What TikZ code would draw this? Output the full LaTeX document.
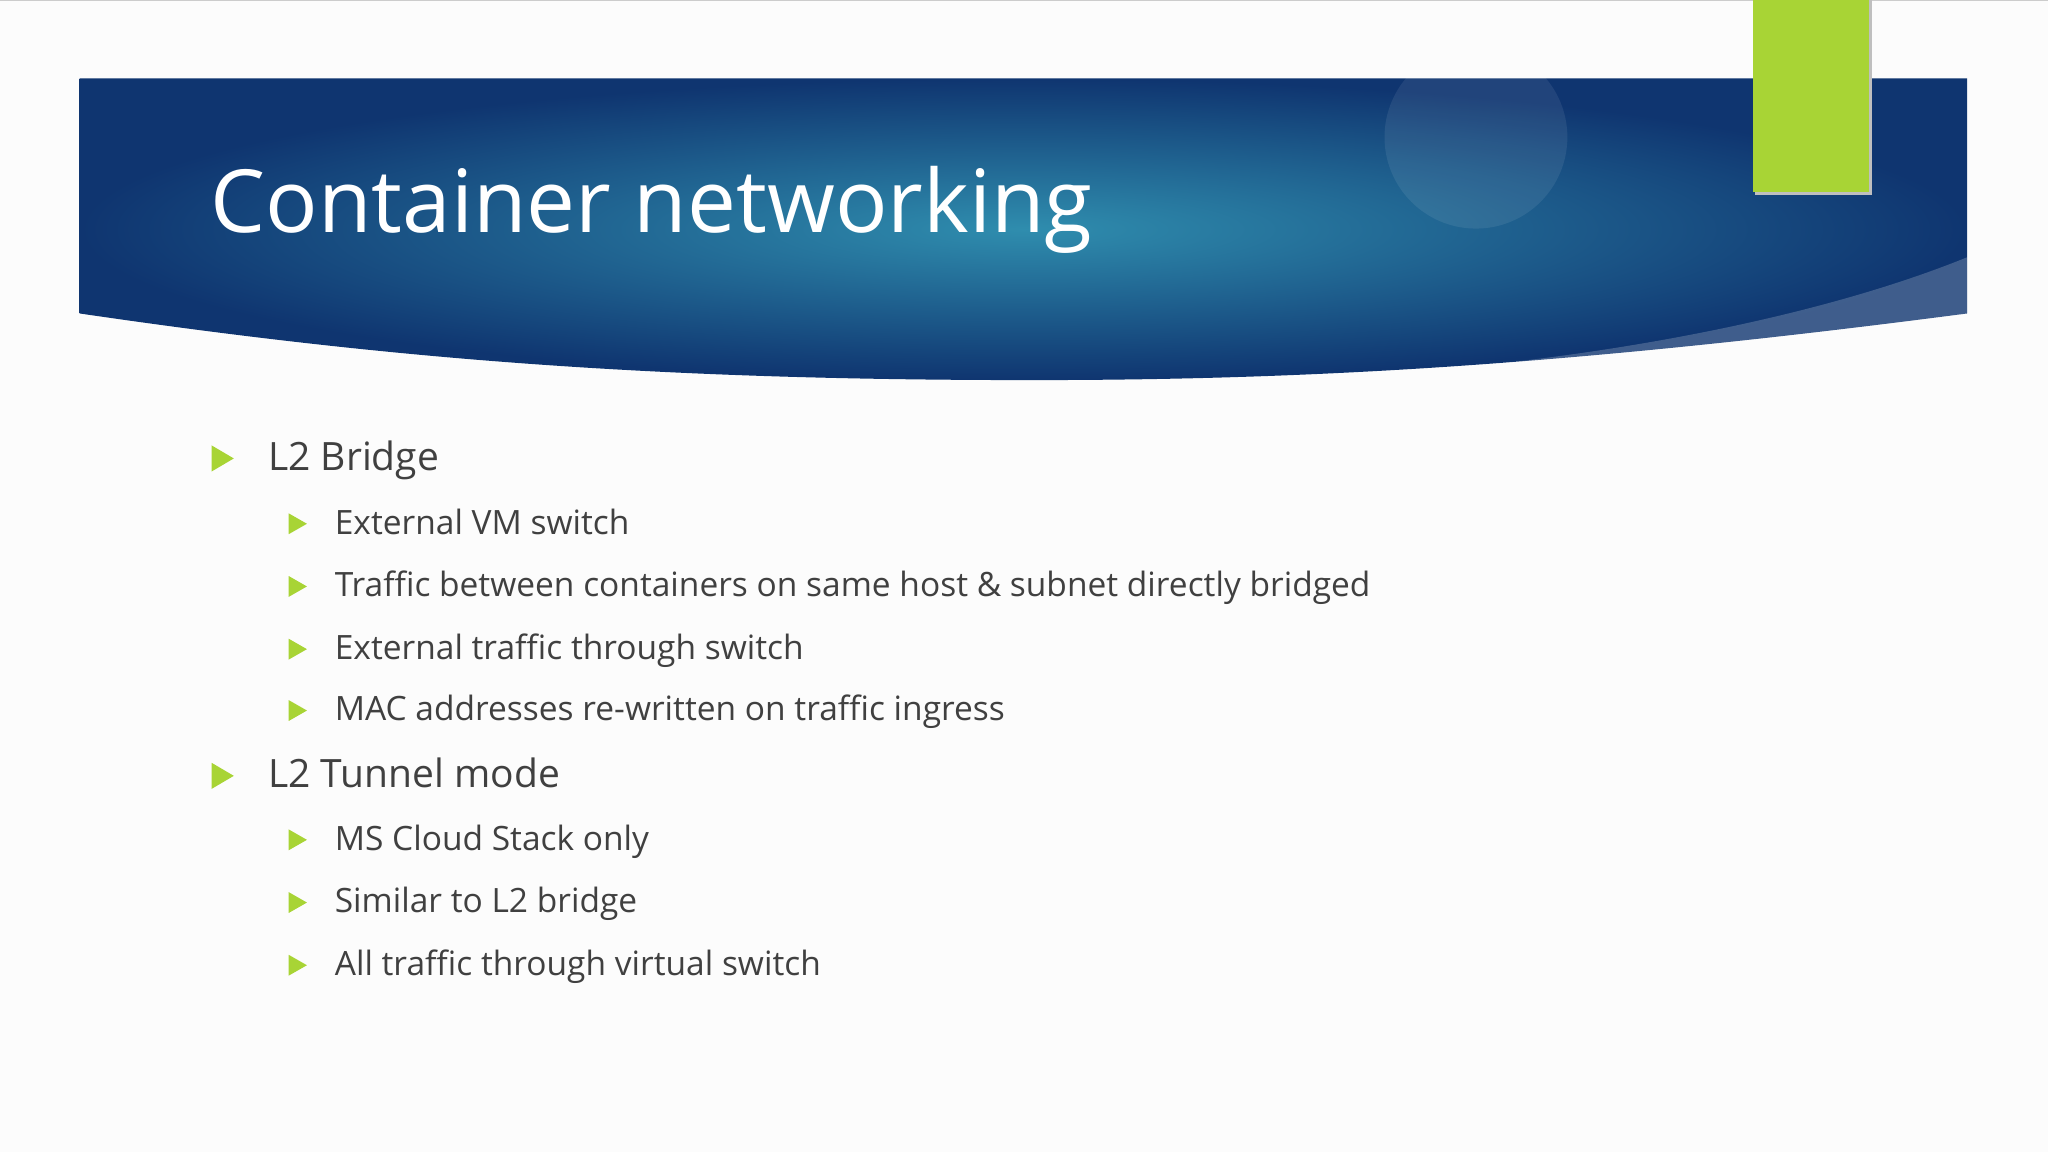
\documentclass[tikz,border=0pt]{standalone}
\usepackage{fontspec}
\setmainfont{Open Sans}
\definecolor{bdark}{HTML}{0F3570}
\definecolor{bteal}{HTML}{2F8DAE}
\definecolor{bgreen}{HTML}{A8D435}
\definecolor{txt}{HTML}{404040}
\tikzset{
  lone/.style={anchor=base west, text=txt, font=\fontsize{17}{20}\selectfont, inner sep=0},
  ltwo/.style={anchor=base west, text=txt, font=\fontsize{14.6}{18}\selectfont, inner sep=0},
  bul/.style={fill=bgreen},
}
\begin{document}
\begin{tikzpicture}[x=0.02cm,y=-0.02cm]
\useasboundingbox (0,0) rectangle (1568,882);
\fill[white!98!gray] (0,0) rectangle (1568,882);
\draw[gray!40] (0,0.5) -- (1568,0.5);
% banner
\shade[inner color=bteal, outer color=bdark] (61,60) -- (1506,60) -- (1506,240) .. controls (1200,280) and (1000,291) .. (790,291) .. controls (500,291) and (300,275) .. (61,240) -- cycle;
\fill[white, opacity=0.2] (1506,197) .. controls (1400,240) and (1250,270) .. (1100,283) .. controls (1300,270) and (1420,255) .. (1506,240) -- cycle;
\fill[white, opacity=0.08] (1130,105) circle (70);
% green tab
\fill[black!25] (1344,0) rectangle (1433,149);
\fill[bgreen] (1342,0) rectangle (1431,147);
\node[anchor=base west, text=white, font=\fontsize{38}{44}\selectfont, inner sep=0] (title) at (161,178) {Container networking};
% level 1
\fill[bul] (162,341) -- (179,351) -- (162,361) -- cycle;
\node[lone] (a) at (205,360) {L2 Bridge};
\fill[bul] (162,584) -- (179,594) -- (162,604) -- cycle;
\node[lone] (b) at (205,603) {L2 Tunnel mode};
% level 2
\foreach \y/\t [count=\i] in {401/External VM switch, 449/Traffic between containers on same host \& subnet directly bridged, 497/External traffic through switch, 544/MAC addresses re-written on traffic ingress/egress, 643/MS Cloud Stack only, 691/Similar to L2 bridge, 739/All traffic through virtual switch}{
  \fill[bul] (221,\y-8) -- (235,\y) -- (221,\y+8) -- cycle;
  \node[ltwo] (s\i) at (256,\y+8) {\t};
}
\end{tikzpicture}
\end{document}
